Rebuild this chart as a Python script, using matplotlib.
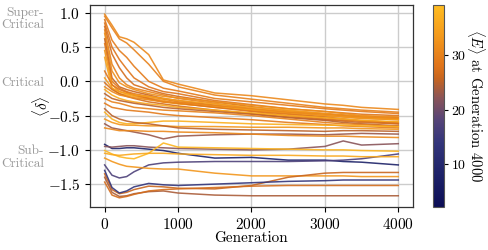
import matplotlib
matplotlib.use('Agg')
import matplotlib.pyplot as plt
import numpy as np
from matplotlib.colors import LinearSegmentedColormap, Normalize
from matplotlib.cm import ScalarMappable

plt.rcParams['font.family'] = 'serif'
plt.rcParams['font.serif'] = ['cmr10']
plt.rcParams['mathtext.fontset'] = 'cm'
plt.rcParams['axes.formatter.use_mathtext'] = True
plt.rcParams['axes.unicode_minus'] = True

gens = [0, 100, 200, 300, 400, 600, 800, 1000, 1500, 2000, 2500, 3000, 3250, 3500, 4000]

# runs starting super-critical
super_runs = [
    [0.98, 0.82, 0.65, 0.62, 0.57, 0.39, 0.02, -0.04, -0.17, -0.21, -0.27, -0.33, -0.35, -0.38, -0.41],
    [0.95, 0.78, 0.62, 0.56, 0.46, 0.25, 0.00, -0.08, -0.20, -0.26, -0.32, -0.38, -0.40, -0.42, -0.45],
    [0.90, 0.60, 0.45, 0.35, 0.22, 0.00, -0.10, -0.14, -0.25, -0.30, -0.35, -0.40, -0.42, -0.44, -0.47],
    [0.85, 0.50, 0.32, 0.18, 0.05, -0.08, -0.15, -0.18, -0.28, -0.34, -0.40, -0.44, -0.46, -0.48, -0.50],
    [0.80, 0.40, 0.20, 0.05, -0.05, -0.12, -0.18, -0.22, -0.30, -0.37, -0.43, -0.47, -0.49, -0.51, -0.53],
    [0.75, 0.25, 0.05, -0.05, -0.10, -0.15, -0.20, -0.25, -0.32, -0.40, -0.45, -0.50, -0.52, -0.54, -0.56],
    [0.70, 0.15, -0.02, -0.08, -0.12, -0.18, -0.22, -0.24, -0.30, -0.35, -0.40, -0.44, -0.47, -0.50, -0.52],
    [0.62, 0.05, -0.08, -0.12, -0.15, -0.20, -0.25, -0.28, -0.35, -0.42, -0.47, -0.52, -0.55, -0.58, -0.60],
    [0.55, 0.00, -0.10, -0.15, -0.18, -0.22, -0.26, -0.30, -0.36, -0.43, -0.48, -0.53, -0.55, -0.57, -0.60],
    [0.45, -0.05, -0.15, -0.18, -0.20, -0.24, -0.28, -0.32, -0.38, -0.42, -0.46, -0.50, -0.52, -0.54, -0.56],
    [0.35, -0.10, -0.18, -0.20, -0.22, -0.26, -0.30, -0.33, -0.37, -0.41, -0.44, -0.48, -0.50, -0.52, -0.55],
]
super_energy = [31, 30, 29, 28, 27, 30, 32, 26, 29, 33, 35]

# runs starting near critical
critical_runs = [
    [0.15, -0.05, -0.12, -0.16, -0.20, -0.25, -0.30, -0.32, -0.38, -0.44, -0.50, -0.55, -0.57, -0.58, -0.62],
    [0.05, -0.10, -0.15, -0.18, -0.20, -0.22, -0.25, -0.28, -0.33, -0.38, -0.42, -0.47, -0.50, -0.52, -0.55],
    [-0.02, -0.12, -0.18, -0.22, -0.25, -0.30, -0.33, -0.36, -0.42, -0.47, -0.52, -0.56, -0.58, -0.60, -0.62],
    [-0.08, -0.15, -0.20, -0.22, -0.24, -0.27, -0.30, -0.31, -0.35, -0.40, -0.45, -0.48, -0.50, -0.52, -0.54],
    [-0.12, -0.20, -0.25, -0.28, -0.30, -0.33, -0.35, -0.38, -0.42, -0.46, -0.50, -0.53, -0.55, -0.57, -0.59],
    [-0.18, -0.25, -0.28, -0.30, -0.32, -0.35, -0.38, -0.40, -0.44, -0.48, -0.53, -0.57, -0.60, -0.62, -0.65],
    [-0.25, -0.30, -0.32, -0.35, -0.38, -0.40, -0.42, -0.43, -0.46, -0.50, -0.55, -0.60, -0.62, -0.63, -0.66],
    [-0.32, -0.38, -0.40, -0.42, -0.43, -0.45, -0.48, -0.50, -0.53, -0.56, -0.60, -0.63, -0.65, -0.66, -0.68],
    [-0.55, -0.60, -0.63, -0.64, -0.64, -0.65, -0.65, -0.66, -0.66, -0.67, -0.67, -0.68, -0.68, -0.69, -0.70],
    [-0.62, -0.68, -0.70, -0.72, -0.74, -0.78, -0.84, -0.80, -0.78, -0.77, -0.77, -0.78, -0.77, -0.76, -0.77],
    [-0.68, -0.70, -0.72, -0.72, -0.72, -0.73, -0.73, -0.74, -0.75, -0.77, -0.79, -0.80, -0.80, -0.81, -0.82],
    [-0.45, -0.55, -0.60, -0.62, -0.62, -0.60, -0.58, -0.58, -0.60, -0.62, -0.63, -0.64, -0.64, -0.65, -0.66],
    [-0.40, -0.50, -0.55, -0.58, -0.60, -0.62, -0.65, -0.68, -0.70, -0.71, -0.72, -0.73, -0.72, -0.72, -0.73],
]
critical_energy = [28, 34, 27, 31, 36, 25, 30, 29, 33, 23, 31, 37, 25]

# runs starting sub-critical
sub_runs = [
    [-0.92, -0.98, -0.98, -0.97, -0.97, -0.99, -1.01, -1.05, -1.12, -1.11, -1.15, -1.15, -1.17, -1.18, -1.22],
    [-1.22, -1.37, -1.41, -1.39, -1.32, -1.22, -1.19, -1.18, -1.17, -1.17, -1.17, -1.16, -1.15, -1.13, -1.06],
    [-0.95, -0.96, -0.95, -0.94, -0.94, -0.96, -0.97, -0.98, -0.99, -1.00, -0.99, -0.95, -0.87, -0.93, -0.91],
    [-1.01, -1.06, -1.10, -1.12, -1.13, -1.05, -0.90, -0.96, -0.97, -0.98, -0.99, -1.00, -1.00, -1.01, -1.02],
    [-1.12, -1.17, -1.21, -1.24, -1.25, -1.27, -1.28, -1.28, -1.34, -1.38, -1.38, -1.38, -1.38, -1.39, -1.39],
    [-1.35, -1.58, -1.64, -1.62, -1.58, -1.53, -1.54, -1.56, -1.57, -1.52, -1.40, -1.34, -1.33, -1.33, -1.33],
    [-1.30, -1.55, -1.63, -1.60, -1.54, -1.49, -1.51, -1.52, -1.50, -1.48, -1.46, -1.45, -1.44, -1.44, -1.44],
    [-1.40, -1.62, -1.68, -1.67, -1.64, -1.61, -1.60, -1.63, -1.66, -1.67, -1.67, -1.67, -1.67, -1.67, -1.67],
    [-1.47, -1.66, -1.70, -1.68, -1.65, -1.60, -1.58, -1.57, -1.55, -1.53, -1.52, -1.52, -1.52, -1.52, -1.52],
    [-1.05, -1.07, -1.08, -1.07, -1.06, -1.05, -1.05, -1.06, -1.07, -1.08, -1.08, -1.09, -1.09, -1.10, -1.10],
]
sub_energy = [8, 17, 22, 38, 33, 26, 14, 24, 27, 36]

# colour map navy -> mauve -> orange -> gold
cmap = LinearSegmentedColormap.from_list('energy', [
    (0.00, '#0c0e56'), (0.16, '#1d2268'), (0.32, '#33357a'), (0.43, '#554478'),
    (0.54, '#8a5458'), (0.64, '#c8651e'), (0.70, '#e0741a'), (0.86, '#f59c1c'),
    (1.00, '#ffbc20')])
norm = Normalize(vmin=2.1, vmax=39.2)

fig = plt.figure(figsize=(4.89, 2.5), dpi=100)
ax = fig.add_axes([0.184, 0.172, 0.6605, 0.808])
cax = fig.add_axes([0.8855, 0.172, 0.0225, 0.808])

ax.grid(True, color='#cccccc', linewidth=1.0)
ax.set_axisbelow(True)

for runs, energy in [(super_runs, super_energy), (critical_runs, critical_energy), (sub_runs, sub_energy)]:
    for vals, e in zip(runs, energy):
        ax.plot(gens, vals, color=cmap(norm(e)), linewidth=1.1, alpha=0.9)

ax.set_xticks([0, 1000, 2000, 3000, 4000])
ax.set_yticks([-1.5, -1.0, -0.5, 0.0, 0.5, 1.0])
ax.tick_params(labelsize=11, length=3.5, width=0.8)
ax.set_xlabel('Generation', fontsize=11, labelpad=0)
ax.set_ylabel(r'$\langle\delta\rangle$', fontsize=11, labelpad=-3)
for s in ax.spines.values():
    s.set_color('#333333')
    s.set_linewidth(0.9)

# regime labels on the left
fig.text(0.09, 0.924, 'Super-\nCritical', ha='right', va='center', fontsize=9.5, color='#9a9a9a', linespacing=1.0)
fig.text(0.09, 0.668, 'Critical', ha='right', va='center', fontsize=9.5, color='#9a9a9a')
fig.text(0.09, 0.370, 'Sub-\nCritical', ha='right', va='center', fontsize=9.5, color='#9a9a9a', linespacing=1.0)

cb = fig.colorbar(ScalarMappable(norm=norm, cmap=cmap), cax=cax)
cb.set_ticks([10, 20, 30])
cb.ax.tick_params(labelsize=10, length=3, width=0.8, pad=2)
cb.outline.set_edgecolor('#555555')
cb.outline.set_linewidth(0.8)
cb.set_label(r'$\langle E\rangle$ at Generation 4000', fontsize=10.5, rotation=270)
cb.ax.yaxis.label.set_verticalalignment('center')
cb.ax.yaxis.label.set_horizontalalignment('center')
cb.ax.yaxis.set_label_coords(3.95, 0.5)

fig.savefig('out.png', dpi=100)
